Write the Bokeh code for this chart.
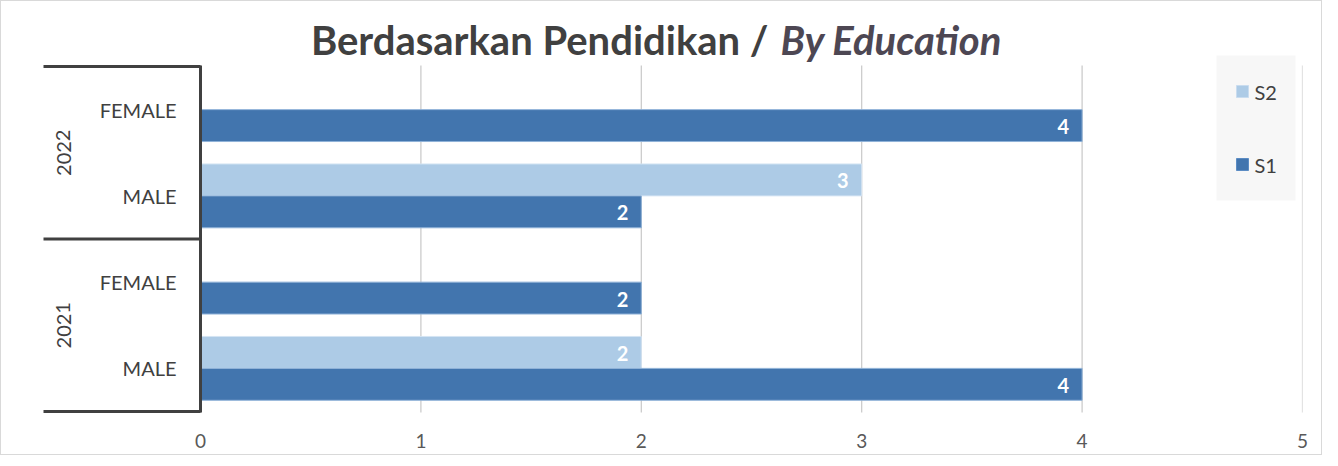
from bokeh.plotting import figure
from bokeh.models import Range1d, FixedTicker, ColumnDataSource, Label
from bokeh.core.properties import value
from bokeh.embed import file_html
from bokeh.resources import INLINE

# ---- data ----
years = ["2021", "2021", "2022", "2022"]
genders = ["MALE", "FEMALE", "MALE", "FEMALE"]
s1_values = [4, 2, 2, 4]
s2_values = [2, 0, 3, 0]
series_names = ["S2", "S1"]
x_ticks = [0, 1, 2, 3, 4, 5]
title_main = "Berdasarkan Pendidikan /"
title_italic = "By Education"

S1_COLOR = "#4275ae"
S2_COLOR = "#adcbe6"
TEXT = "#404040"
FONT = "Lato"

W, H = 1322, 455
FRAME_H = 413
BOTTOM = H - FRAME_H          # px below the frame (tick labels)
PX_PER_UNIT = 220.4           # horizontal scale
ZERO_X = 199                  # screen x of value 0
RIGHT = 21
CAT_PX = 86.25                # category height
pad = 3 / CAT_PX
y_start = -0.5 - pad


def dx(px):
    return (px - ZERO_X) / PX_PER_UNIT


def dy(py):
    return y_start + (FRAME_H - py) / CAT_PX


p = figure(width=W, height=H, output_backend="svg", toolbar_location=None,
           x_range=Range1d(dx(0), dx(W - RIGHT)),
           y_range=Range1d(dy(FRAME_H), dy(0)),
           min_border_left=0, min_border_right=RIGHT,
           min_border_top=0, min_border_bottom=BOTTOM,
           outline_line_color=None, background_fill_color="white", border_fill_color="white")
p.yaxis.visible = False
p.ygrid.visible = False
p.xgrid.visible = False

p.xaxis.ticker = FixedTicker(ticks=x_ticks)
p.xaxis.axis_line_color = None
p.xaxis.major_tick_line_color = None
p.xaxis.minor_tick_line_color = None
p.xaxis.major_tick_out = 0
p.xaxis.major_label_text_font = FONT
p.xaxis.major_label_text_font_size = "19px"
p.xaxis.major_label_text_color = "#595959"
p.xaxis.major_label_standoff = 19

n = len(genders)
y_lo, y_hi = -0.5 - pad * 0.3, n - 0.5 + pad * 0.3

# vertical grid lines
p.segment(x0=x_ticks[1:], x1=x_ticks[1:], y0=[y_lo] * 5, y1=[y_hi] * 5,
          line_color="#c8c8c8", line_width=1.2)

cats = list(range(n))
off = 0.185
bh = 0.37
src = ColumnDataSource(dict(
    y1=[c - off for c in cats], y2=[c + off for c in cats],
    s1=s1_values, s2=s2_values,
    l1=[str(v) if v else "" for v in s1_values],
    l2=[str(v) if v else "" for v in s2_values],
))
r2 = p.hbar(y="y2", left=0, right="s2", height=bh, source=src,
            fill_color=S2_COLOR, line_color="#d4e4f3", line_width=1)
r1 = p.hbar(y="y1", left=0, right="s1", height=bh, source=src,
            fill_color=S1_COLOR, line_color="#8fb2d8", line_width=1)

for yk, xk, lk in (("y1", "s1", "l1"), ("y2", "s2", "l2")):
    p.text(x=xk, y=yk, text=lk, source=src, text_color="white",
           text_font=value(FONT), text_font_style="bold", text_font_size="20px",
           text_align="right", text_baseline="middle", x_offset=-13, y_offset=1)

# zero axis line
p.segment(x0=[0], x1=[0], y0=[y_lo], y1=[y_hi], line_color="#404040", line_width=3)

# hierarchical category axis (left)
bounds = [-0.5]
for i in range(1, n):
    if years[i] != years[i - 1]:
        bounds.append(i - 0.5)
bounds.append(n - 0.5)
p.segment(x0=[dx(42)] * len(bounds), x1=[0] * len(bounds), y0=bounds, y1=bounds,
          line_color="#404040", line_width=3)
p.text(x=[dx(175)] * n, y=cats, text=genders, text_color=TEXT,
       text_font=value(FONT), text_font_size="20px", text_align="right",
       text_baseline="middle")
uy = []
for y in dict.fromkeys(years):
    idx = [i for i, v in enumerate(years) if v == y]
    uy.append((y, sum(idx) / len(idx)))
p.text(x=[dx(62)] * len(uy), y=[c for _, c in uy], text=[y for y, _ in uy],
       angle=1.5708, text_color=TEXT, text_font=value(FONT), text_font_size="20px",
       text_align="center", text_baseline="middle")

# title (two styles)
ty = dy(38)
split_x = dx(767)
p.add_layout(Label(x=split_x, y=ty, text=title_main, text_align="right",
                   text_font=FONT, text_font_style="bold", text_font_size="40px",
                   text_color=TEXT, text_baseline="alphabetic"))
p.add_layout(Label(x=split_x + 12 / PX_PER_UNIT, y=ty, text=title_italic, text_align="left",
                   text_font=FONT, text_font_style="bold italic", text_font_size="40px",
                   text_color="#4d4753", text_baseline="alphabetic"))

# legend (drawn with glyphs)
p.quad(left=[dx(1215)], right=[dx(1294)], top=[dy(54)], bottom=[dy(199)],
       fill_color="#f7f7f7", line_color=None)
leg_y = [dy(90), dy(163)]
p.scatter(x=[dx(1241)] * 2, y=leg_y, marker="square", size=12,
          fill_color=[S2_COLOR, S1_COLOR], line_color=["#c9dcef", "#5b8cc4"])
p.text(x=[dx(1253)] * 2, y=leg_y, text=series_names, text_color=TEXT,
       text_font=value(FONT), text_font_size="20px", text_align="left",
       text_baseline="middle")

p.styles = {"border": "1px solid #d9d9d9"}

open("out.html", "w").write(file_html(p, INLINE))
